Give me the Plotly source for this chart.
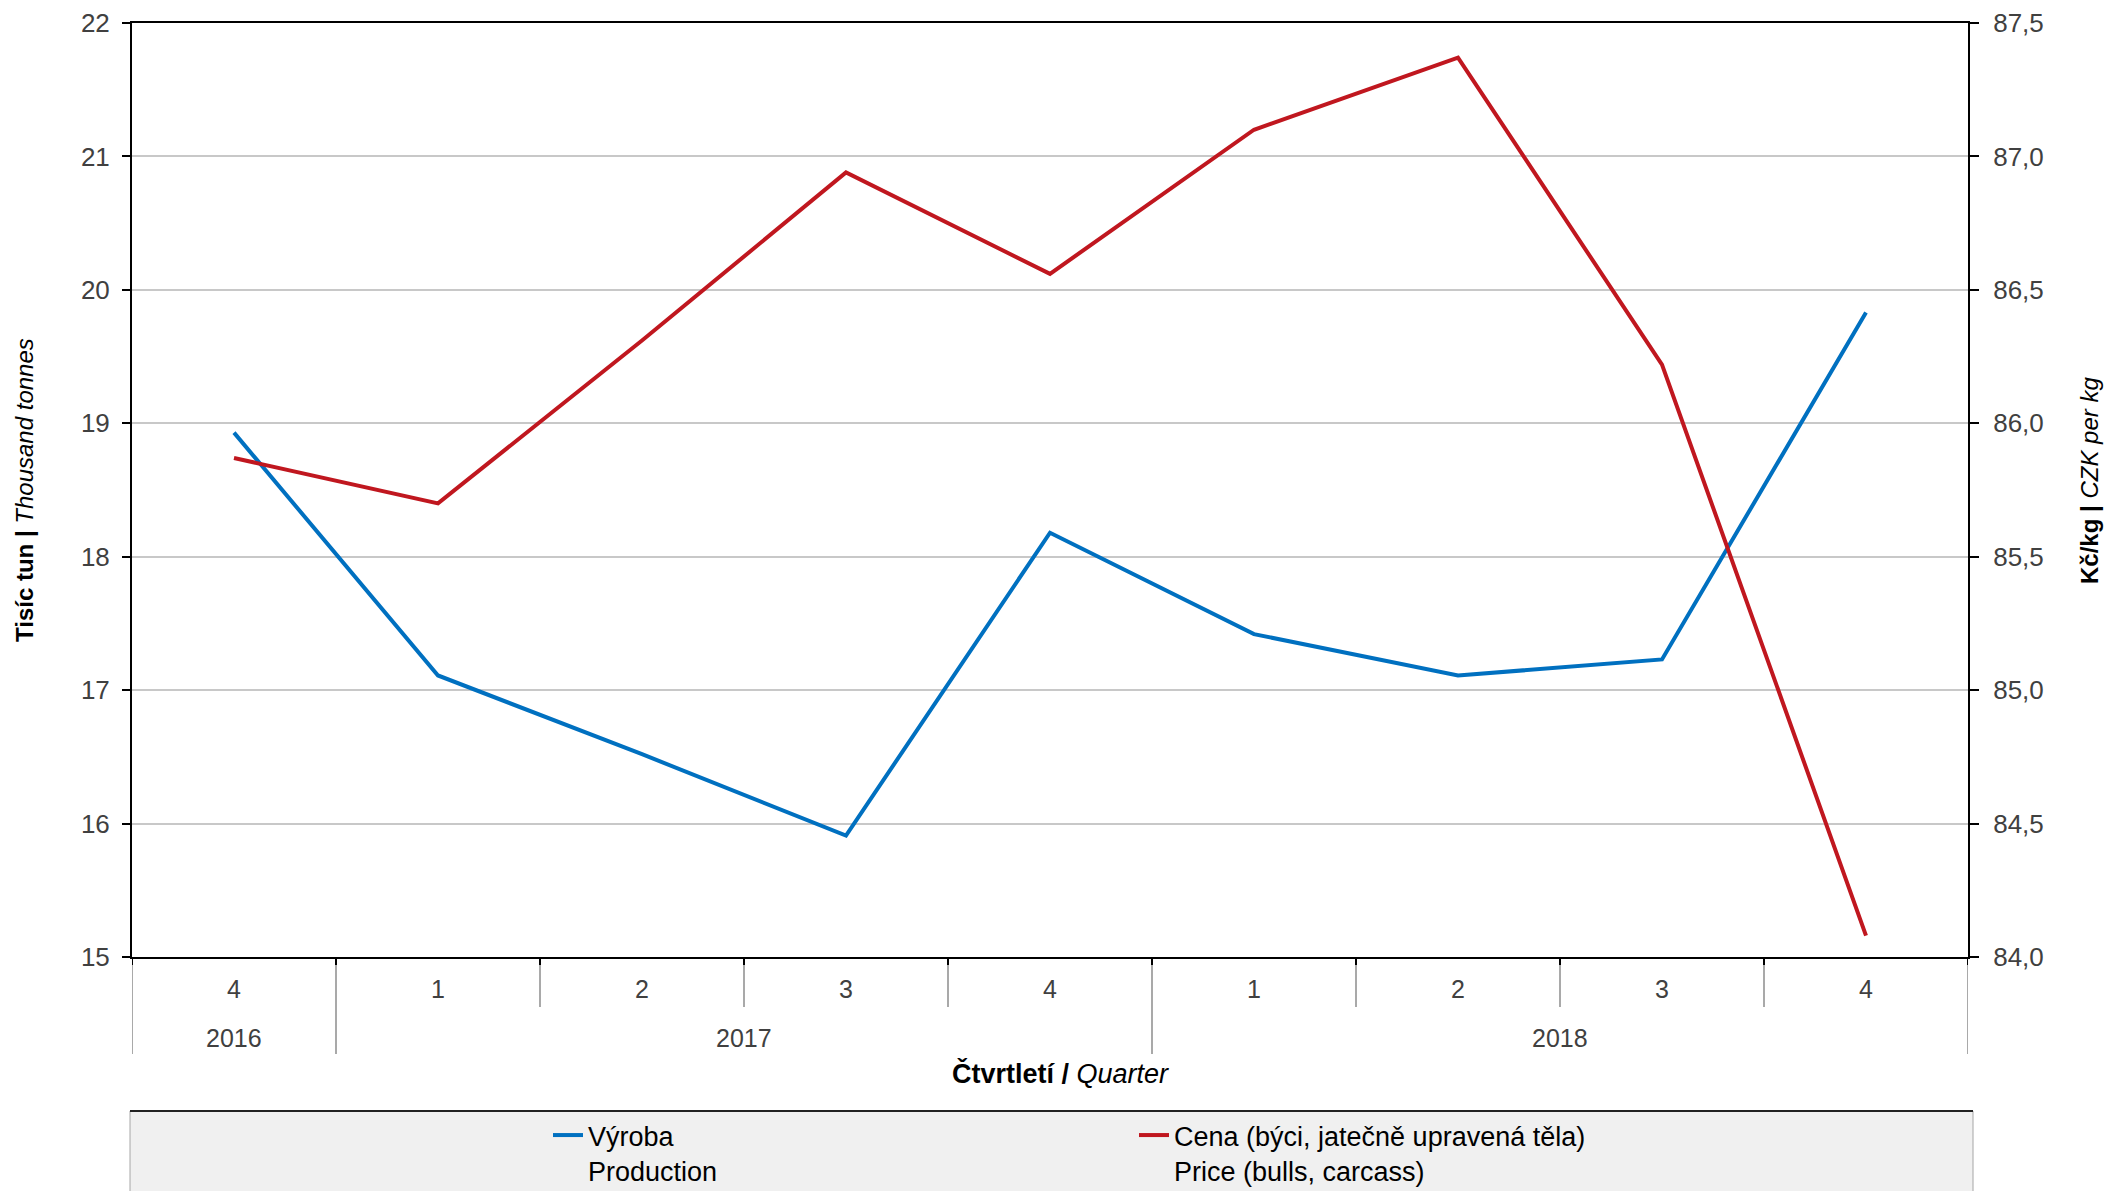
import plotly.graph_objects as go

# ---- data ----
quarters = ["4", "1", "2", "3", "4", "1", "2", "3", "4"]
years = ["2016", "2017", "2018"]
year_spans = [(0, 0), (1, 4), (5, 8)]  # category index ranges per year
production = [18.93, 17.11, 16.52, 15.91, 18.18, 17.42, 17.11, 17.23, 19.83]
price = [85.87, 85.70, 86.31, 86.94, 86.56, 87.10, 87.37, 86.22, 84.08]

name_prod = "Výroba<br>Production"
name_price = "Cena (býci, jatečně upravená těla)<br>Price (bulls, carcass)"

BLUE = "#0070C0"
RED = "#C0171F"
FONT = "Liberation Sans, Arial, sans-serif"
TICKC = "#404040"

W, H = 2105, 1191
L, R, T, B = 132, 137, 23, 234
PW, PH = W - L - R, H - T - B

x = list(range(len(quarters)))

fig = go.Figure()
fig.add_trace(go.Scatter(x=x, y=production, name=name_prod, mode="lines",
                         line=dict(color=BLUE, width=4), yaxis="y"))
fig.add_trace(go.Scatter(x=x, y=price, name=name_price, mode="lines",
                         line=dict(color=RED, width=4), yaxis="y2"))

def py(px_below):  # paper y for pixels below plot bottom
    return -px_below / PH

shapes = []
# legend box background
shapes.append(dict(type="rect", xref="paper", yref="paper",
                   x0=-2 / PW, x1=(1973 - L) / PW, y0=py(1111 - (H - B)), y1=py(1300 - (H - B)),
                   fillcolor="#f0f0f0", line=dict(color="#a6a6a6", width=1), layer="below"))
shapes.append(dict(type="line", xref="paper", yref="paper",
                   x0=-2 / PW, x1=(1973 - L) / PW, y0=py(1111 - (H - B)), y1=py(1111 - (H - B)),
                   line=dict(color="#222222", width=2)))

# category dividers
n = len(quarters)
year_bounds = set()
for a, b in year_spans:
    year_bounds.add(a - 0.5)
    year_bounds.add(b + 0.5)
for i in range(n + 1):
    bx = i - 0.5
    long = bx in year_bounds
    shapes.append(dict(type="line", xref="x", yref="paper", x0=bx, x1=bx,
                       y0=0, y1=py(97 if long else 50),
                       line=dict(color="#8c8c8c", width=1.5)))
    shapes.append(dict(type="line", xref="x", yref="paper", x0=bx, x1=bx,
                       y0=0, y1=py(8), line=dict(color="#000000", width=2)))

annotations = []
for i, q in enumerate(quarters):
    annotations.append(dict(x=i, y=0, xref="x", yref="paper", text=q, showarrow=False,
                            yshift=-32, yanchor="middle", font=dict(size=25, color=TICKC, family=FONT)))
for yr, (a, b) in zip(years, year_spans):
    annotations.append(dict(x=(a + b) / 2, y=0, xref="x", yref="paper", text=yr, showarrow=False,
                            yshift=-81, yanchor="middle", font=dict(size=25, color=TICKC, family=FONT)))
annotations.append(dict(x=(1060 - L) / PW, y=0, xref="paper", yref="paper",
                        text="<b>Čtvrtletí /</b> <i>Quarter</i>", showarrow=False,
                        yshift=-116, yanchor="middle", font=dict(size=27, color="#000000", family=FONT)))
annotations.append(dict(x=0, y=0.5, xref="paper", yref="paper",
                        text="<b>Tisíc tun | </b><i>Thousand tonnes</i>", showarrow=False,
                        textangle=-90, xshift=-(L - 24), xanchor="center", yanchor="middle",
                        font=dict(size=24, color="#000000", family=FONT)))
annotations.append(dict(x=1, y=(H - B - 481) / PH, xref="paper", yref="paper",
                        text="<b>Kč/kg | </b><i>CZK per kg</i>", showarrow=False,
                        textangle=-90, xshift=(2089 - (W - R)), xanchor="center", yanchor="middle",
                        font=dict(size=24, color="#000000", family=FONT)))

fig.update_layout(
    width=W, height=H,
    margin=dict(l=L, r=R, t=T, b=B, autoexpand=False),
    paper_bgcolor="white", plot_bgcolor="white",
    separators=", ",
    font=dict(family=FONT, size=25, color=TICKC),
    xaxis=dict(range=[-0.5, n - 0.5], showticklabels=False, ticks="", showgrid=False,
               zeroline=False, showline=True, mirror=True, linecolor="#000000", linewidth=2),
    yaxis=dict(range=[15, 22], dtick=1, tick0=15, showgrid=True, gridcolor="#c8c8c8", gridwidth=1.5,
               zeroline=False, showline=True, linecolor="#000000", linewidth=2,
               ticks="outside", ticklen=8, tickwidth=2, tickcolor="#000000",
               ticklabelstandoff=7, tickfont=dict(size=26, color=TICKC, family=FONT)),
    yaxis2=dict(range=[84, 87.5], dtick=0.5, tick0=84, tickformat=".1f", overlaying="y", side="right",
                showgrid=False, zeroline=False, showline=True, linecolor="#000000", linewidth=2,
                ticks="outside", ticklen=9, tickwidth=2, tickcolor="#000000",
                ticklabelstandoff=9, tickfont=dict(size=26, color=TICKC, family=FONT)),
    showlegend=True,
    legend=dict(orientation="h", x=(548 - L) / PW, xanchor="left",
                y=py(1111 - (H - B)), yanchor="top", valign="top",
                bgcolor="rgba(0,0,0,0)", borderwidth=0,
                entrywidth=541, entrywidthmode="pixels",
                font=dict(size=27, color="#000000", family=FONT), tracegroupgap=0),
    shapes=shapes,
    annotations=annotations,
)

fig.write_html("out.html", config={"displayModeBar": False},
               post_script="document.body.style.margin='0';document.body.style.padding='0';")
